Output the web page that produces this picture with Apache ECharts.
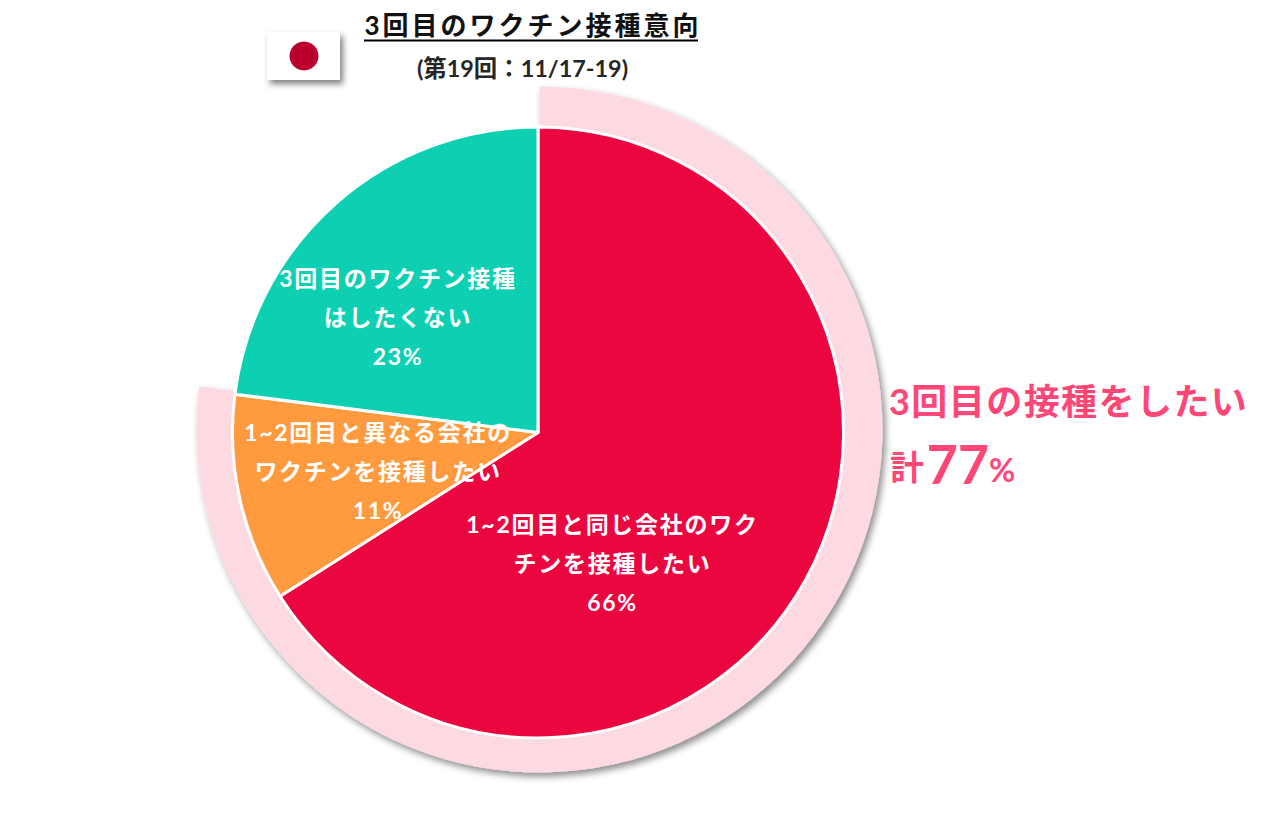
<!DOCTYPE html>
<html><head><meta charset="utf-8">
<style>html,body{margin:0;padding:0;background:#fff}#c{width:1271px;height:819px}
#c svg text{letter-spacing:.075em}
#c svg text[style*="26px"]{letter-spacing:.115em}
#c svg text[style*="23.4px"],#c svg text[style*="54px"],#c svg text[style*="32px"],#c svg text[style*="34px"]{letter-spacing:0}
#c svg text[style*="36px"]{letter-spacing:.04em}</style>
<script src="https://cdn.jsdelivr.net/npm/echarts@6/dist/echarts.min.js"></script>
</head><body><div id="c"></div>
<script>
const categories = ["1~2回目と同じ会社のワク\nチンを接種したい","1~2回目と異なる会社の\nワクチンを接種したい","3回目のワクチン接種\nはしたくない"];
const values = [66,11,23];
const sliceColors = ["#EB063F","#FF9A3E","#0DD0B3"];
const ringValues = [77,23];
const titleText = "3回目のワクチン接種意向";
const subtitleText = "(第19回：11/17-19)";
const calloutLine1 = "3回目の接種をしたい";
const font = "Lato, 'Noto Sans CJK JP', sans-serif";
const labelOffsets = [[-62,55],[-8,5],[-37,1.5]];
const chart = echarts.init(document.getElementById('c'),null,{renderer:'svg'});
chart.setOption({
  animation:false,
  backgroundColor:'#fff',
  title:[
    {text:titleText,left:528,top:7,textAlign:'center',textStyle:{fontFamily:font,fontSize:26,fontWeight:'bold',color:'#111'}},
    {text:subtitleText,left:517.5,top:51,textAlign:'center',textStyle:{fontFamily:font,fontSize:23.4,fontWeight:'bold',color:'#262626'}}
  ],
  series:[
    {type:'pie',silent:true,center:[539.5,429.5],radius:[0,343],startAngle:90,clockwise:true,label:{show:false},labelLine:{show:false},
     data:ringValues.map((v,i)=>({value:v,itemStyle:i===0?{color:'#FDD9E2',shadowBlur:7,shadowOffsetX:3,shadowOffsetY:4,shadowColor:'rgba(0,0,0,.45)'}:{color:'rgba(0,0,0,0)'}}))},
    {type:'pie',silent:true,center:[538,432.5],radius:[0,305.5],startAngle:90,clockwise:true,avoidLabelOverlap:false,labelLine:{show:false},
     labelLayout:{hideOverlap:false},
     itemStyle:{borderColor:'#fff',borderWidth:3},
     label:{show:true,position:'inside',color:'#fff',fontFamily:font,fontSize:23,fontWeight:'bold',lineHeight:39,align:'center',formatter:p=>p.name+'\n'+p.value+'%'},
     data:categories.map((n,i)=>({name:n,value:values[i],itemStyle:{color:sliceColors[i]},label:{offset:labelOffsets[i]}}))}
  ],
  graphic:[
    {type:'rect',shape:{x:267,y:32,width:73,height:48},style:{fill:'#fff',shadowBlur:6,shadowOffsetX:3,shadowOffsetY:4,shadowColor:'rgba(0,0,0,.5)'}},
    {type:'circle',shape:{cx:304,cy:56,r:14.5},style:{fill:'#BC002D'}},
    {type:'line',shape:{x1:364,y1:40.5,x2:698,y2:40.5},style:{stroke:'#000',lineWidth:2}},
    {type:'text',x:889,y:401,style:{text:calloutLine1,fontFamily:font,fontSize:36,fontWeight:'bold',fill:'#FF4777',textAlign:'left',textVerticalAlign:'middle'}},
    {type:'text',x:890,y:466,style:{text:'計',fontFamily:font,fontSize:34,fontWeight:'bold',fill:'#FF4777',textAlign:'left',textVerticalAlign:'middle'}},
    {type:'text',x:926.5,y:463,style:{text:'77',fontFamily:font,fontSize:54,fontWeight:'bold',fill:'#FF4777',textAlign:'left',textVerticalAlign:'middle'}},
    {type:'text',x:989,y:469,style:{text:'%',fontFamily:font,fontSize:32,fontWeight:'bold',fill:'#FF4777',textAlign:'left',textVerticalAlign:'middle'}}
  ]
});
</script></body></html>
